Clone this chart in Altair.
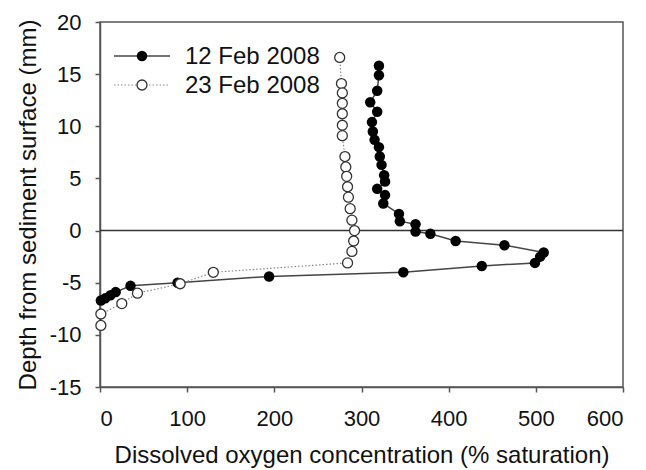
import altair as alt
import pandas as pd

# 12 Feb 2008 (filled circles), ordered by depth
feb12_depth = [15.8, 14.9, 13.4, 12.3, 11.4, 10.4, 9.5, 8.7, 8.0, 7.1, 6.3, 5.3, 4.7, 4.0,
               3.4, 2.6, 1.6, 0.9, 0.6, -0.1, -0.3, -1.0, -1.4, -2.1, -2.5, -3.1, -3.4,
               -4.0, -4.4, -5.0, -5.3, -5.9, -6.2, -6.5, -6.7]
feb12_oxygen = [320, 320, 318, 310, 318, 312, 313, 315, 320, 321, 323, 326, 327, 318,
                327, 325, 343, 344, 362, 362, 379, 408, 464, 509, 505, 499, 438,
                348, 194, 89, 35, 18, 12, 6, 1]

# 23 Feb 2008 (open circles), ordered by depth
feb23_depth = [16.6, 14.1, 13.2, 12.2, 11.2, 10.1, 9.1, 7.1, 6.1, 5.2, 4.2, 3.2, 2.1, 1.0,
               0.0, -1.0, -2.0, -3.1, -4.0, -5.1, -6.0, -7.0, -8.0, -9.1]
feb23_oxygen = [275, 277, 278, 278, 278, 278, 278, 281, 282, 283, 284, 285, 287, 289,
                292, 291, 289, 284, 130, 92, 43, 25, 1, 1]

series_names = ["12 Feb 2008", "23 Feb 2008"]
x_ticks = [0, 100, 200, 300, 400, 500, 600]
y_ticks = [-15, -10, -5, 0, 5, 10, 15, 20]

df12 = pd.DataFrame({"o": feb12_oxygen, "d": feb12_depth, "i": range(len(feb12_depth))})
df23 = pd.DataFrame({"o": feb23_oxygen, "d": feb23_depth, "i": range(len(feb23_depth))})

FONT = "Liberation Sans"
AX = "#555555"
LBL = 22
TTL = 24

x_enc = alt.X("o:Q", scale=alt.Scale(domain=[0, 600], nice=False),
              axis=alt.Axis(values=x_ticks, title="Dissolved oxygen concentration (% saturation)",
                            labelExpr="'' + datum.value",
                            grid=False, tickSize=5, labelPadding=16, titlePadding=14,
                            labelFontSize=LBL, titleFontSize=TTL, titleFontWeight="normal",
                            labelFont=FONT, titleFont=FONT, labelColor="#111", titleColor="#111",
                            domainColor=AX, tickColor=AX, domainWidth=1.5, tickWidth=1.5))
y_enc = alt.Y("d:Q", scale=alt.Scale(domain=[-15, 20], nice=False),
              axis=alt.Axis(values=y_ticks, title="Depth from sediment surface (mm)",
                            labelExpr="'' + datum.value",
                            grid=False, tickSize=5, labelPadding=14, titlePadding=9,
                            labelFontSize=LBL, titleFontSize=TTL, titleFontWeight="normal",
                            labelFont=FONT, titleFont=FONT, labelColor="#111", titleColor="#111",
                            domainColor=AX, tickColor=AX, domainWidth=1.5, tickWidth=1.5))

zero = alt.Chart(pd.DataFrame({"d": [0]})).mark_rule(color="#333", strokeWidth=1.5).encode(
    y=alt.Y("d:Q", scale=alt.Scale(domain=[-15, 20], nice=False)))

line12 = alt.Chart(df12).mark_line(color="#444", strokeWidth=1.5).encode(x=x_enc, y=y_enc, order="i:Q")
line23 = alt.Chart(df23).mark_line(color="#888", strokeWidth=1.2, strokeDash=[1.5, 2]).encode(
    x="o:Q", y="d:Q", order="i:Q")
pts12 = alt.Chart(df12).mark_point(filled=True, shape="circle", size=110, color="black", opacity=1).encode(
    x="o:Q", y="d:Q")
pts23 = alt.Chart(df23).mark_point(filled=True, shape="circle", size=100, fill="white", stroke="#333",
                                   strokeWidth=1.3, opacity=1).encode(x="o:Q", y="d:Q")

# legend
leg = pd.DataFrame({"name": series_names})
l1 = alt.Chart(leg.iloc[[0]]).mark_rule(color="#444", strokeWidth=1.5).encode(
    x=alt.value(14), x2=alt.value(70), y=alt.value(34))
l2 = alt.Chart(leg.iloc[[1]]).mark_rule(color="#888", strokeWidth=1.2, strokeDash=[1.5, 2]).encode(
    x=alt.value(14), x2=alt.value(70), y=alt.value(63))
p1 = alt.Chart(leg.iloc[[0]]).mark_point(filled=True, shape="circle", size=110, color="black", opacity=1).encode(
    x=alt.value(42), y=alt.value(34))
p2 = alt.Chart(leg.iloc[[1]]).mark_point(filled=True, shape="circle", size=100, fill="white", stroke="#333",
                                         strokeWidth=1.3, opacity=1).encode(x=alt.value(42), y=alt.value(63))
t1 = alt.Chart(leg.iloc[[0]]).mark_text(align="left", baseline="middle", fontSize=24, font=FONT, color="#111").encode(
    x=alt.value(85), y=alt.value(35), text="name:N")
t2 = alt.Chart(leg.iloc[[1]]).mark_text(align="left", baseline="middle", fontSize=24, font=FONT, color="#111").encode(
    x=alt.value(85), y=alt.value(64), text="name:N")

chart = alt.layer(line12, zero, line23, pts12, pts23, l1, l2, p1, p2, t1, t2).properties(
    width=523, height=365,
    autosize=alt.AutoSizeParams(type="none"),
    padding={"left": 100, "top": 22, "right": 23, "bottom": 83},
    background="white",
).configure_view(stroke=AX, strokeWidth=1.5)

chart.save("out.html", embed_options={"renderer": "svg", "actions": False})
